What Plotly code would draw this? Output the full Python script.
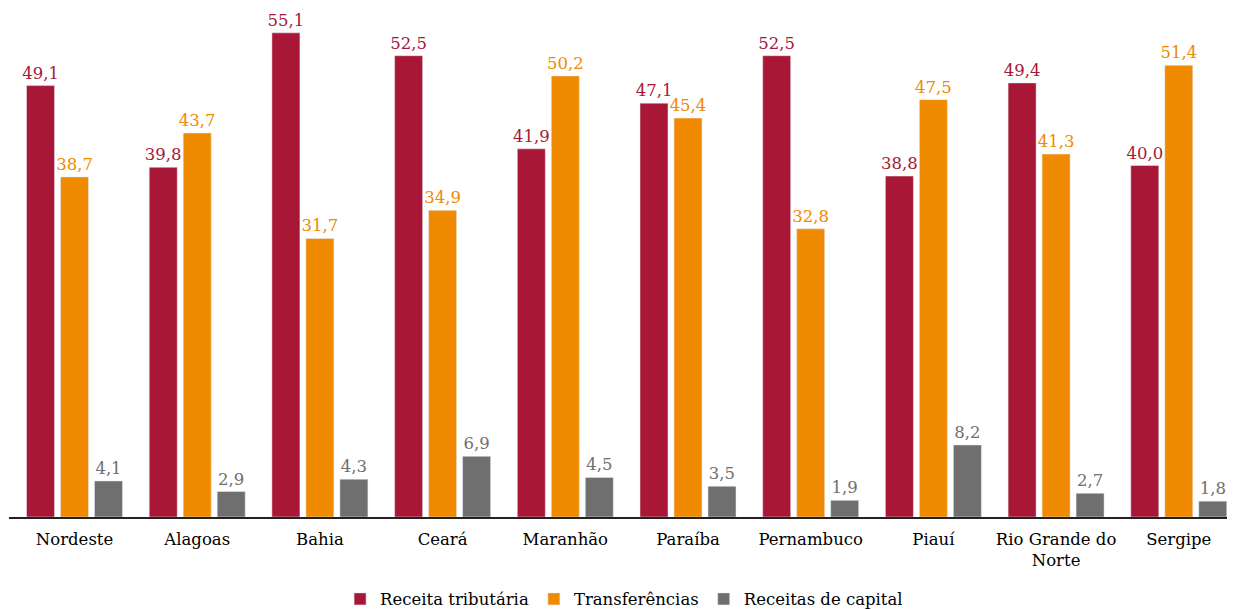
import plotly.graph_objects as go

categories = ["Nordeste", "Alagoas", "Bahia", "Ceará", "Maranhão", "Paraíba",
              "Pernambuco", "Piauí", "Rio Grande do<br>Norte", "Sergipe"]
receita_tributaria = [49.1, 39.8, 55.1, 52.5, 41.9, 47.1, 52.5, 38.8, 49.4, 40.0]
transferencias = [38.7, 43.7, 31.7, 34.9, 50.2, 45.4, 32.8, 47.5, 41.3, 51.4]
receitas_capital = [4.1, 2.9, 4.3, 6.9, 4.5, 3.5, 1.9, 8.2, 2.7, 1.8]

series = [
    ("Receita tributária", receita_tributaria, "#A81836"),
    ("Transferências", transferencias, "#F08A00"),
    ("Receitas de capital", receitas_capital, "#6F6F6F"),
]

FONT = "DejaVu Serif"

fig = go.Figure()
for name, vals, color in series:
    fig.add_trace(go.Bar(
        x=categories, y=vals, name=name, marker_color=color,
        text=[f"{v:.1f}".replace(".", ",") for v in vals],
        textposition="outside", textfont=dict(color=color, size=16.5, family=FONT),
        cliponaxis=False, constraintext="none",
    ))

# page body has an 8px default margin; figure is sized to fill the rest of the window
fig.update_layout(
    width=1228, height=602,
    margin=dict(l=1, r=9, t=2, b=93, autoexpand=False),
    barmode="group", bargap=0.169, bargroupgap=0.176,
    plot_bgcolor="white", paper_bgcolor="white",
    font=dict(family=FONT, size=16.5, color="black"),
    showlegend=True,
    legend=dict(orientation="h", x=0.505, xanchor="center", yref="container", y=0.018, yanchor="middle",
                font=dict(size=16.5, family=FONT, color="black"), traceorder="normal",
                itemwidth=30),
)
fig.update_xaxes(showline=True, linecolor="#222", linewidth=2, ticks="", showgrid=False,
                 range=[-0.534, 9.393], ticklabelstandoff=6)
fig.update_yaxes(visible=False, range=[0, 57.7], showgrid=False, zeroline=False)

fig.write_html("out.html")
